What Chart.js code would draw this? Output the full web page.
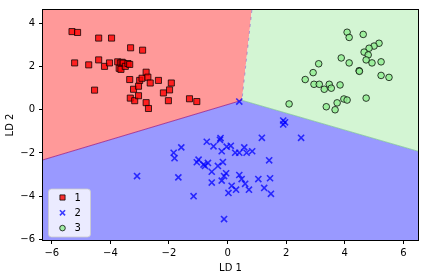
<!DOCTYPE html>
<html><head><meta charset="utf-8">
<script src="https://cdn.jsdelivr.net/npm/chart.js@4/dist/chart.umd.min.js"></script>
<style>html,body{margin:0;padding:0;background:#fff}#wrap{width:424px;height:280px}</style>
</head><body><div id="wrap"><canvas id="c" width="424" height="280"></canvas></div>
<script>
// ---- data (LD 1, LD 2) ----
const classLabels = ['1', '2', '3'];
const class1X = [-5.31,-5.12,-4.40,-3.96,-3.31,-2.90,-5.22,-4.74,-4.40,-4.20,-4.03,-3.75,-3.66,-3.60,-3.56,-3.70,-3.64,-3.49,-3.40,-3.34,-3.34,-3.21,-3.00,-2.92,-3.04,-2.78,-2.72,-2.64,-2.36,-1.92,-1.98,-2.19,-4.54,-3.32,-3.17,-3.04,-2.78,-2.70,-2.02,-1.30,-1.05];
const class1Y = [3.62,3.58,3.32,3.32,2.87,2.76,2.17,2.08,2.31,2.01,2.17,2.22,2.17,2.20,2.16,1.92,1.87,2.01,2.14,2.10,1.40,0.95,1.36,1.46,1.09,1.74,1.51,1.24,1.36,1.24,0.92,0.78,0.91,0.54,0.42,0.65,0.33,0.06,0.42,0.51,0.38];
const class2X = [0.40,1.90,1.96,1.90,-0.24,1.17,2.51,-1.58,-1.84,-1.81,-3.09,-1.68,-1.16,-0.71,-0.48,-0.26,-0.20,-0.03,0.11,0.26,0.40,0.57,0.65,0.84,-0.99,-1.05,-0.82,-0.67,-0.77,-0.33,-0.16,-0.54,-0.05,-0.12,-0.20,0.40,0.48,1.05,1.45,1.42,-0.54,0.60,0.14,0.29,0.03,0.73,1.25,1.48,-0.12];
const class2Y = [0.38,-0.50,-0.58,-0.68,-1.31,-1.30,-1.30,-1.74,-1.99,-2.24,-3.07,-3.13,-4.00,-1.48,-1.69,-1.39,-1.92,-1.71,-1.67,-1.99,-1.99,-1.74,-1.99,-1.92,-2.31,-2.43,-2.54,-2.46,-2.60,-2.60,-2.42,-2.87,-2.94,-3.07,-3.28,-3.02,-3.21,-3.21,-3.17,-2.34,-3.37,-3.43,-3.52,-3.70,-3.85,-3.70,-3.62,-3.89,-5.06];
const class3X = [4.08,4.15,4.63,5.17,5.00,4.83,4.66,4.80,4.73,4.93,5.24,3.88,4.15,3.11,2.92,4.49,4.50,5.24,5.51,2.65,2.95,3.13,3.30,3.47,3.54,3.84,2.10,3.37,3.67,3.74,3.97,4.08,4.73];
const class3Y = [3.59,3.35,3.49,3.08,2.95,2.85,2.67,2.54,2.31,2.17,2.22,2.40,2.17,2.13,1.72,1.81,1.78,1.59,1.50,1.40,1.18,1.18,0.95,1.18,1.00,1.15,0.27,0.14,0.00,0.32,0.50,0.45,0.54];

// decision regions (polygon vertices in data units)
const region1X = [-6.3, 0.83, 0.49, -6.3];
const region1Y = [4.62, 4.62, 0.44, -2.32];
const region2X = [-6.3, 0.49, 6.5, 6.5, -6.3];
const region2Y = [-2.32, 0.44, -1.92, -6.03, -6.03];
const region3X = [0.83, 6.5, 6.5, 0.49];
const region3Y = [4.62, 4.62, -1.92, 0.44];

const xTicks = [-6, -4, -2, 0, 2, 4, 6];
const yTicks = [-6, -4, -2, 0, 2, 4];
const xRange = [-6.3, 6.5];
const yRange = [-6.03, 4.62];

// ---- build ----
const zip = (xs, ys) => xs.map((v, i) => ({x: v, y: ys[i]}));
const fmt = v => (v < 0 ? '\u2212' + Math.abs(v) : String(v));
const FONT = {family: 'DejaVu Sans', size: 10};

const regions = [
  {xs: region1X, ys: region1Y, color: 'rgb(255,153,153)'},
  {xs: region2X, ys: region2Y, color: 'rgb(153,153,255)'},
  {xs: region3X, ys: region3Y, color: 'rgb(211,245,211)'}
];

const regionPlugin = {
  id: 'regions',
  beforeDatasetsDraw(chart) {
    const {ctx, chartArea: a, scales: {x, y}} = chart;
    ctx.save();
    ctx.beginPath(); ctx.rect(a.left, a.top, a.width, a.height); ctx.clip();
    const path = (xs, ys) => {
      ctx.beginPath();
      xs.forEach((v, i) => {
        const px = x.getPixelForValue(v), py = y.getPixelForValue(ys[i]);
        i ? ctx.lineTo(px, py) : ctx.moveTo(px, py);
      });
    };
    regions.forEach(r => { path(r.xs, r.ys); ctx.closePath(); ctx.fillStyle = r.color; ctx.fill(); });
    // boundary edges
    ctx.lineWidth = 1;
    ctx.strokeStyle = 'rgba(150,20,130,0.75)';
    path([region2X[0], region2X[1]], [region2Y[0], region2Y[1]]); ctx.stroke();
    ctx.strokeStyle = 'rgba(120,90,200,0.55)'; ctx.setLineDash([3, 4]);
    path([region1X[1], region1X[2]], [region1Y[1], region1Y[2]]); ctx.stroke();
    ctx.setLineDash([]);
    ctx.strokeStyle = 'rgba(120,190,150,0.7)';
    path([region2X[1], region2X[2]], [region2Y[1], region2Y[2]]); ctx.stroke();
    ctx.restore();
  },
  afterDatasetsDraw(chart) {
    const {ctx, chartArea: a} = chart;
    ctx.save();
    // legend box (lower left)
    const bx = a.left + 5.5, bw = 42, bh = 48, by = a.bottom - 3 - bh;
    const r = 3;
    ctx.beginPath();
    ctx.moveTo(bx + r, by); ctx.lineTo(bx + bw - r, by); ctx.arcTo(bx + bw, by, bx + bw, by + r, r);
    ctx.lineTo(bx + bw, by + bh - r); ctx.arcTo(bx + bw, by + bh, bx + bw - r, by + bh, r);
    ctx.lineTo(bx + r, by + bh); ctx.arcTo(bx, by + bh, bx, by + bh - r, r);
    ctx.lineTo(bx, by + r); ctx.arcTo(bx, by, bx + r, by, r); ctx.closePath();
    ctx.fillStyle = 'rgba(255,255,255,0.8)'; ctx.fill();
    ctx.strokeStyle = 'rgba(204,204,204,0.8)'; ctx.lineWidth = 1; ctx.stroke();
    chart.data.datasets.forEach((ds, i) => {
      const cy = by + 8.5 + i * 15.3, cx = bx + 14;
      ctx.fillStyle = ds.backgroundColor || 'rgba(0,0,0,0)';
      ctx.strokeStyle = ds.borderColor;
      ctx.lineWidth = ds.borderWidth;
      Chart.helpers.drawPoint(ctx, {pointStyle: ds.pointStyle, radius: ds.pointRadius * 0.85, rotation: 0, borderWidth: ds.borderWidth}, cx, cy);
      ctx.fillStyle = '#000';
      ctx.font = '10px "DejaVu Sans"';
      ctx.textBaseline = 'middle'; ctx.textAlign = 'left';
      ctx.fillText(ds.label, bx + 26, cy + 0.5);
    });
    // frame
    ctx.strokeStyle = '#000'; ctx.lineWidth = 1;
    ctx.strokeRect(Math.round(a.left) - 0.5, Math.round(a.top) - 0.5, Math.round(a.width) + 1, Math.round(a.height) + 1);
    ctx.restore();
  }
};

new Chart(document.getElementById('c'), {
  type: 'scatter',
  data: {
    datasets: [
      {label: classLabels[0], data: zip(class1X, class1Y), pointStyle: 'rect', pointRadius: 4.3, pointHoverRadius: 4.3,
       backgroundColor: 'rgba(255,0,0,0.8)', borderColor: 'rgba(0,0,0,0.75)', borderWidth: 1},
      {label: classLabels[1], data: zip(class2X, class2Y), pointStyle: 'crossRot', pointRadius: 4.3, pointHoverRadius: 4.3,
       backgroundColor: 'rgba(0,0,255,0.75)', borderColor: 'rgba(0,0,255,0.75)', borderWidth: 1.6},
      {label: classLabels[2], data: zip(class3X, class3Y), pointStyle: 'circle', pointRadius: 3.3, pointHoverRadius: 3.3,
       backgroundColor: 'rgba(144,238,144,0.8)', borderColor: 'rgba(0,0,0,0.75)', borderWidth: 1}
    ]
  },
  options: {
    responsive: false, animation: false, devicePixelRatio: 1,
    layout: {padding: {top: 6, right: 6, left: 0, bottom: 0}},
    plugins: {legend: {display: false}, tooltip: {enabled: false}},
    scales: {
      x: {
        type: 'linear', min: xRange[0], max: xRange[1],
        afterBuildTicks: s => { s.ticks = xTicks.map(v => ({value: v})); },
        afterFit: s => { s.height = 40; },
        ticks: {callback: v => fmt(v), font: FONT, color: '#000', padding: 3, maxRotation: 0, autoSkip: false},
        grid: {drawOnChartArea: false, tickLength: 4, color: '#000'},
        border: {display: false},
        title: {display: true, text: 'LD 1', font: FONT, color: '#000', padding: {top: 0, bottom: 6}}
      },
      y: {
        type: 'linear', min: yRange[0], max: yRange[1],
        afterBuildTicks: s => { s.ticks = yTicks.map(v => ({value: v})); },
        afterFit: s => { s.width = 43; },
        ticks: {callback: v => fmt(v), font: FONT, color: '#000', padding: 4, autoSkip: false},
        grid: {drawOnChartArea: false, tickLength: 4, color: '#000'},
        border: {display: false},
        title: {display: true, text: 'LD 2', font: FONT, color: '#000', padding: {top: 4, bottom: 4}}
      }
    }
  },
  plugins: [regionPlugin]
});
</script>
</body></html>
